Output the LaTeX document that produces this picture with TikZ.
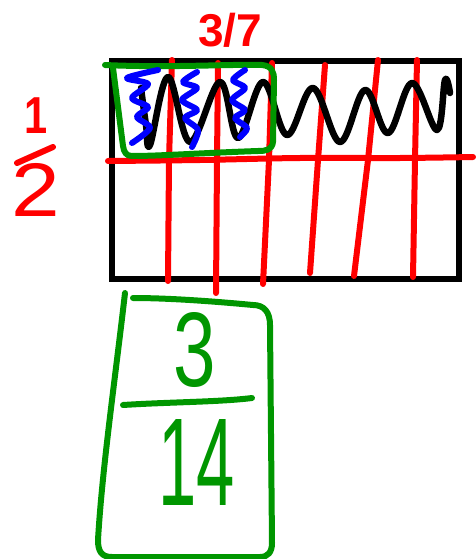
\documentclass[tikz,border=0pt]{standalone}
\usepackage{fontspec}
\setmainfont{Liberation Sans}
\begin{document}
\begin{tikzpicture}[x=1pt,y=-1pt,
  pen/.style={line width=6pt,line cap=round,line join=round},
  redpen/.style={pen,draw={rgb,255:red,255;green,0;blue,0}},
  greenpen/.style={pen,draw={rgb,255:red,0;green,150;blue,0}},
  bluepen/.style={pen,draw={rgb,255:red,0;green,0;blue,255}},
  blackpen/.style={pen,line width=6.5pt,draw=black},
  redtext/.style={text={rgb,255:red,255;green,0;blue,0},inner sep=0pt},
  greentext/.style={text={rgb,255:red,0;green,150;blue,0},inner sep=0pt}]
\useasboundingbox (0,0) rectangle (475,559);

% whole rectangle
\draw[line width=5.5pt,line join=miter] (112,61) rectangle (459,279);

% halves
\draw[redpen] plot[smooth,tension=0.6] coordinates {(108,161) (200,160) (300,158) (400,158) (473,157)};
% sevenths
\draw[redpen] (172,60) -- (169,160) -- (168,281);
\draw[redpen] (218,63) -- (217,160) -- (216,293);
\draw[redpen] (272,63) -- (269,160) -- (263,284);
\draw[redpen] (325,65) -- (318,160) -- (310,273);
\draw[redpen] (378,60) -- (368,160) -- (354,276);
\draw[redpen] (417,60) -- (415,160) -- (413,277);

% shading of three sevenths
\draw[blackpen] plot[smooth,tension=0.6] coordinates {
  (141,88) (146,125) (150,145) (168,77) (190,142) (220,82) (238,138)
  (263,82) (287,135) (313,88) (340,142) (365,90) (388,133) (412,83)
  (437,130) (445,80) (450,93)};

% one half of three sevenths
\draw[greenpen] (105,65) .. controls (170,68) and (230,64) .. (262,65)
  .. controls (272,66) and (274,72) .. (274,80)
  -- (273,142) .. controls (272,150) and (266,151) .. (258,151)
  .. controls (200,153) and (160,156) .. (132,156)
  .. controls (126,156) and (124,152) .. (123,146)
  -- (113,68);

\draw[bluepen] plot[smooth,tension=0.5] coordinates {
  (158,70) (127,78) (148,84) (132,98) (148,107) (137,117) (150,128) (132,143)};
\draw[bluepen] plot[smooth,tension=0.5] coordinates {
  (197,72) (183,82) (197,88) (182,100) (197,110) (185,118) (198,130) (192,147)};
\draw[bluepen] plot[smooth,tension=0.5] coordinates {
  (245,70) (233,80) (245,88) (232,100) (245,110) (235,118) (247,128) (240,137)};

% labels
\node[redtext,font=\bfseries\fontsize{46}{46}\selectfont] (seven) at (230,30) {3/7};
\node[redtext,font=\bfseries\fontsize{52}{52}\selectfont,xscale=0.8] (one) at (36,116) {1};
\draw[redpen] (17,163) -- (53,147);
\node[redtext,font=\fontsize{76}{76}\selectfont,xscale=1.15] (two) at (36,190) {2};

% product
\draw[greenpen] (125,293) .. controls (115,380) and (102,470) .. (98,540)
  .. controls (98,552) and (102,557) .. (112,557)
  -- (260,557) .. controls (268,557) and (272,552) .. (272,543)
  -- (270,325) .. controls (270,312) and (264,305) .. (253,305)
  .. controls (200,300) and (160,298) .. (133,298);
\node[greentext,font=\fontsize{106}{106}\selectfont,xscale=0.72] (three) at (195,350) {3};
\draw[greenpen] (123,405) .. controls (170,402) and (220,402) .. (252,398);
\node[greentext,font=\fontsize{125}{125}\selectfont,xscale=0.55] (fourteen) at (197,462) {14};
\end{tikzpicture}
\end{document}
